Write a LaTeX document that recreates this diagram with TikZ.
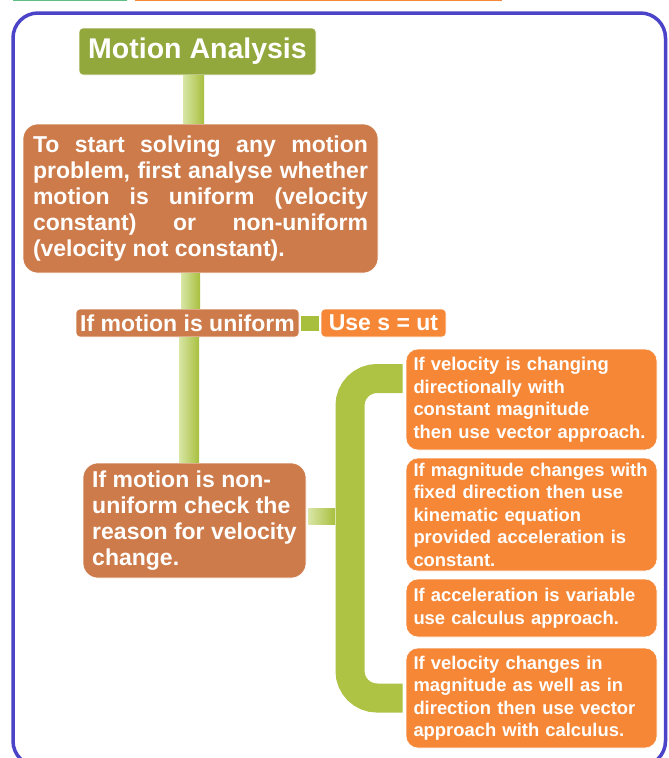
\documentclass[tikz,border=0pt]{standalone}
\usepackage{fontspec}
\setmainfont{Liberation Sans}
\usepackage{tikz}

\definecolor{titlegreen}{HTML}{92A83C}
\definecolor{boxbrown}{HTML}{CD7B4A}
\definecolor{boxorange}{HTML}{F58737}
\definecolor{barlight}{HTML}{D8E6A6}
\definecolor{bargreen}{HTML}{A8BF3E}
\definecolor{bracegreen}{HTML}{AEC244}
\definecolor{frameblue}{HTML}{4B44C8}
\definecolor{stripgreen}{HTML}{5DBF82}

\begin{document}
\begin{tikzpicture}[x = 1pt, y = -1pt,
        box/.style = {rectangle, draw = white, line width = .6pt, text = white, inner sep = 0pt},
        bigtext/.style = {font = \bfseries\fontsize{23}{26}\selectfont},
        smalltext/.style = {font = \bfseries\fontsize{18.4}{22.5}\selectfont, text width = 236pt, align = left},
        bar/.style = {left color = barlight, right color = bargreen},
        brace/.style = {draw = bracegreen, line width = 29pt, rounded corners = 27pt}]
        \useasboundingbox (0,0) rectangle (669,758);
        \draw[stripgreen, line width = 1.5pt] (13,.5) -- (127,.5);
        \draw[boxorange, line width = 1.5pt] (135,.5) -- (502,.5);
        \draw[frameblue, line width = 3.5pt, rounded corners = 25pt] (13,13) rectangle (665.5,766);
        \node[box, fill = titlegreen, rounded corners = 4pt, minimum width = 237pt, minimum height = 47pt,
              font = \bfseries\fontsize{28.5}{30}\selectfont] (title) at (197.5,51.5) {Motion Analysis};
        \node[box, bigtext, fill = boxbrown, rounded corners = 15pt, minimum width = 355pt, minimum height = 149pt,
              text width = 335pt, align = justify] (big) at (200.5,198.5)
              {\tolerance=10000 To start solving any motion\break problem, first analyse whether\break
               motion is uniform (velocity\break constant) or non-uniform\break (velocity not constant).};
        \node[box, bigtext, fill = boxbrown, rounded corners = 4pt, minimum width = 223pt, minimum height = 28pt] (uni) at (187.5,323) {If motion is uniform};
        \node[box, bigtext, fill = boxorange, rounded corners = 4pt, minimum width = 125pt, minimum height = 28pt] (use) at (383.5,323) {Use s = ut};
        \node[box, bigtext, fill = boxbrown, rounded corners = 15pt, minimum width = 223pt, minimum height = 115pt,
              align = left] (nonuni) at (194.5,520.5)
              {If motion is non-\\uniform check the\\reason for velocity\\change.};
        \node[box, smalltext, fill = boxorange, rounded corners = 12pt, minimum width = 251pt, minimum height = 101pt] (b1) at (531.5,399.5)
              {If velocity is changing\\directionally with\\constant magnitude\\then use vector approach.};
        \node[box, smalltext, fill = boxorange, rounded corners = 12pt, minimum width = 251pt, minimum height = 113pt] (b2) at (531.5,514.5)
              {If magnitude changes with\\fixed direction then use\\kinematic equation\\provided acceleration is\\constant.};
        \node[box, smalltext, fill = boxorange, rounded corners = 12pt, minimum width = 251pt, minimum height = 58pt] (b3) at (531.5,608)
              {If acceleration is variable\\use calculus approach.};
        \node[box, smalltext, fill = boxorange, rounded corners = 12pt, minimum width = 251pt, minimum height = 100pt] (b4) at (531.5,698)
              {If velocity changes in\\magnitude as well as in\\direction then use vector\\approach with calculus.};
        \coordinate (spine) at (350,516);
        \shade[bar] (183,0 |- title.south) rectangle (204,0 |- big.north);
        \shade[bar] (181,0 |- big.south) rectangle (200,0 |- uni.north);
        \shade[bar] (179,0 |- uni.south) rectangle (199,0 |- nonuni.north);
        \fill[bargreen] ([xshift = 2pt, yshift = 7.5pt]uni.east) rectangle ([xshift = -2pt, yshift = -7.5pt]use.west);
        \shade[bar] ([xshift = 2pt, yshift = 12.5pt]nonuni.east) rectangle ([xshift = -15pt, yshift = -8pt]spine);
        \draw[brace] ([xshift = -3pt, yshift = 21pt]b1.west) -| (spine) |- ([xshift = -3pt]b4.west);
      \end{tikzpicture}
\end{document}
